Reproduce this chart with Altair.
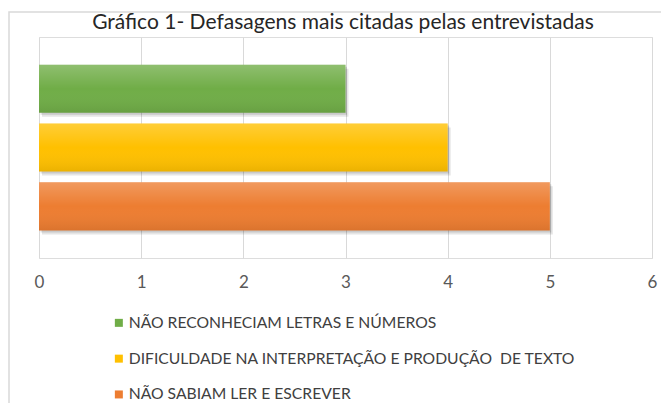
import altair as alt
import pandas as pd

categories = [
    "NÃO RECONHECIAM LETRAS E NÚMEROS",
    "DIFICULDADE NA INTERPRETAÇÃO E PRODUÇÃO\u00a0 DE TEXTO",
    "NÃO SABIAM LER E ESCREVER",
]
values = [3, 4, 5]
colors = ["#70AD47", "#FFC000", "#ED7D31"]
ticks = [0, 1, 2, 3, 4, 5, 6]
title_text = ["Gráfico 1- Defasagens mais citadas pelas entrevistadas"]

df = pd.DataFrame({"categoria": categories, "valor": values})

x_enc = alt.X(
    "valor:Q",
    scale=alt.Scale(domain=[0, 6], nice=False),
    axis=alt.Axis(
        values=ticks, title=None, grid=True, gridColor="#D9D9D9", gridWidth=1,
        domain=False, ticks=False, labelFontSize=17, labelColor="#595959",
        labelFont="Lato", labelPadding=16, format="d", labelFlush=False,
    ),
)
y_enc = alt.Y(
    "categoria:N", sort=categories,
    scale=alt.Scale(paddingInner=0.18, paddingOuter=0.47), axis=None,
)

base = alt.Chart(df).encode(x=x_enc, y=y_enc)

frame = alt.Chart(pd.DataFrame({"f": [0]})).mark_rect(
    fill=None, stroke="#D9D9D9", strokeWidth=1.5
).encode(x=alt.value(-30), x2=alt.value(700), y=alt.value(-25), y2=alt.value(500))

title = alt.Chart(pd.DataFrame({"t": title_text})).mark_text(
    font="Lato", fontSize=21, color="#262626", align="center", baseline="alphabetic"
).encode(text="t:N", x=alt.value(304), y=alt.value(-8))

shadow1 = base.mark_bar(color="#000000", opacity=0.10, xOffset=3, yOffset=4)
shadow2 = base.mark_bar(color="#000000", opacity=0.12, xOffset=1.5, yOffset=2)

bars = base.mark_bar().encode(
    color=alt.Color(
        "categoria:N", sort=categories,
        scale=alt.Scale(domain=categories, range=colors),
        legend=alt.Legend(
            title=None, orient="none", legendX=72, legendY=278, padding=0,
            symbolType="square", symbolSize=64, symbolStrokeWidth=0,
            labelFont="Lato", labelFontSize=15.7, labelColor="#404040",
            labelOffset=2, rowPadding=18.8, labelLimit=600,
        ),
    )
)

gradient = alt.Gradient(
    gradient="linear", x1=0, y1=0, x2=0, y2=1,
    stops=[
        alt.GradientStop(offset=0, color="rgba(255,255,255,0.22)"),
        alt.GradientStop(offset=0.5, color="rgba(255,255,255,0)"),
        alt.GradientStop(offset=1, color="rgba(0,0,0,0.08)"),
    ],
)
overlay = base.mark_bar(color=gradient)

chart = alt.layer(frame, title, shadow1, shadow2, bars, overlay).properties(
    width=613, height=221,
    autosize=alt.AutoSizeParams(type="none"),
    padding={"left": 31, "top": 29, "right": 9, "bottom": 145},
).configure_view(stroke=None).configure(background="white")

chart.save("out.html", embed_options={"renderer": "svg", "actions": False})
